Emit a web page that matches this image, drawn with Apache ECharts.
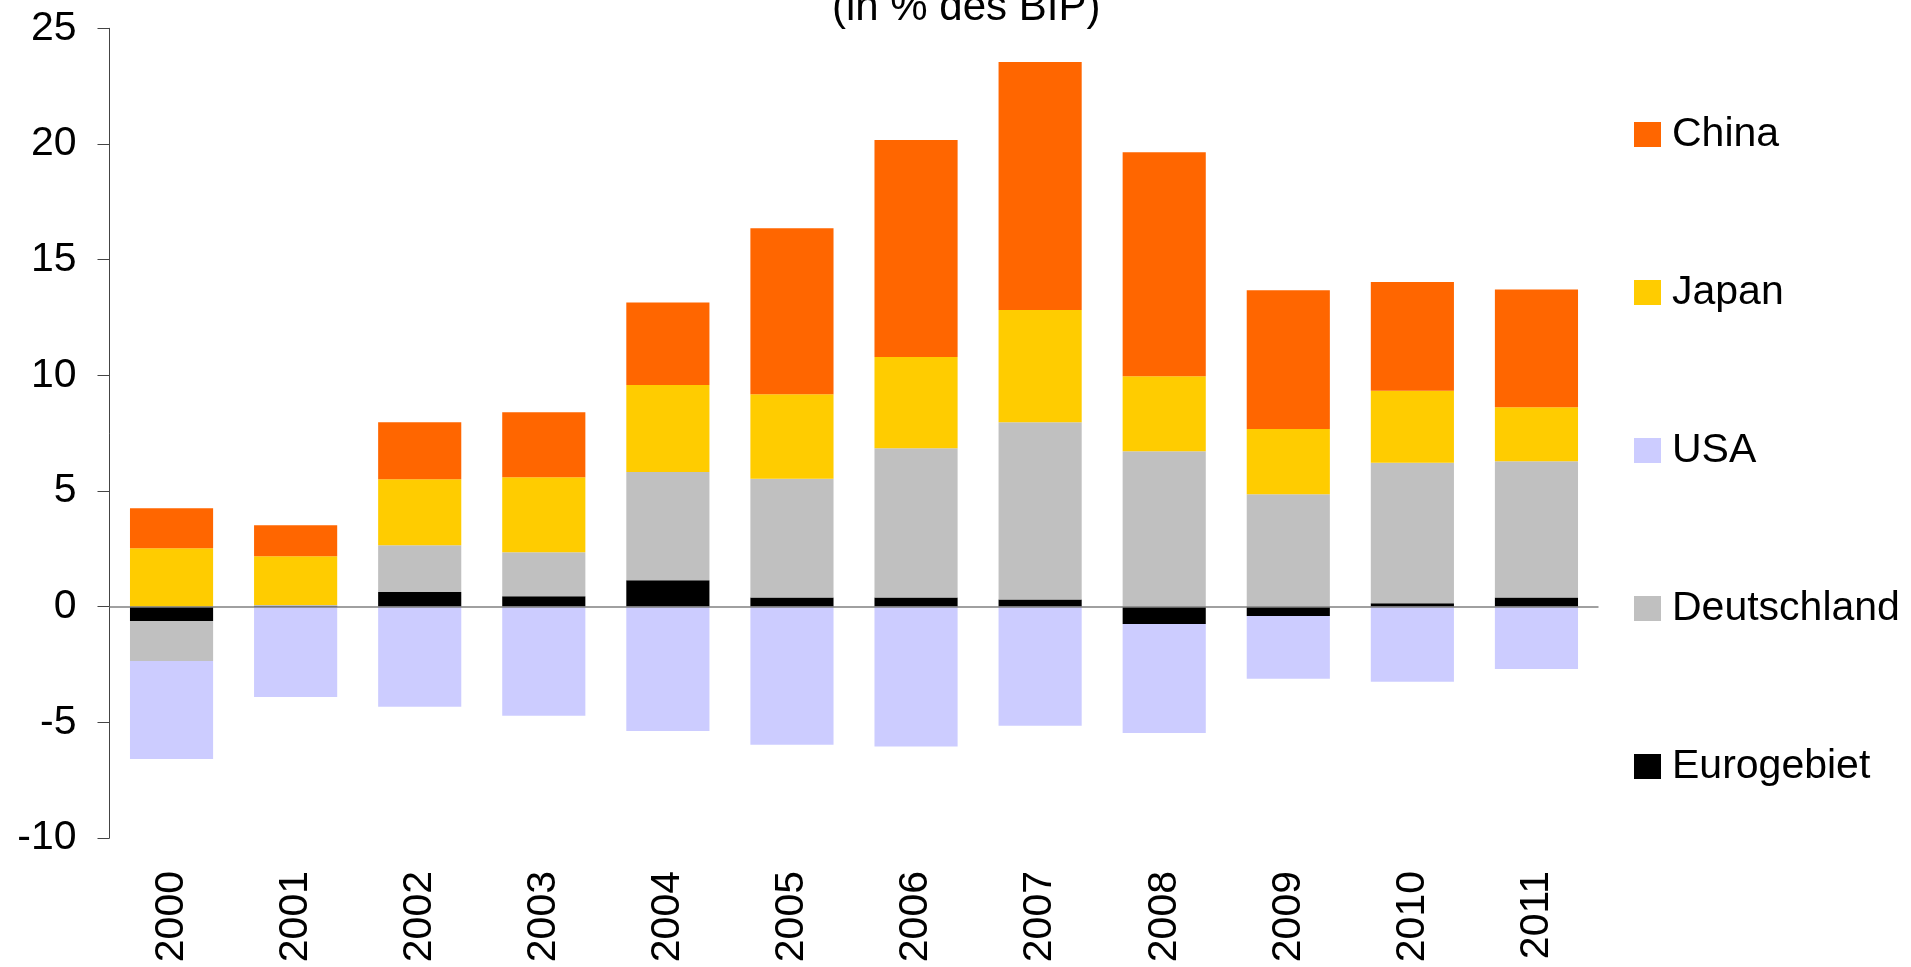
<!DOCTYPE html>
<html>
<head>
<meta charset="utf-8">
<title>Leistungsbilanzsalden</title>
<script src="https://cdn.jsdelivr.net/npm/echarts@6/dist/echarts.min.js"></script>
<style>
  html, body { margin: 0; padding: 0; background: #fff; }
  #main { width: 1911px; height: 967px; }
</style>
</head>
<body>
<div id="main"></div>
<script>
var years = ['2000', '2001', '2002', '2003', '2004', '2005', '2006', '2007', '2008', '2009', '2010', '2011'];

// Werte in % des BIP
var eurogebiet  = [-0.62, 0.04, 0.63, 0.45, 1.14, 0.40, 0.40, 0.31, -0.75, -0.40, 0.15, 0.40];
var deutschland = [-1.73, 0.03, 2.02, 1.90, 4.68, 5.13, 6.45, 7.66, 6.72, 4.86, 6.07, 5.89];
var usa         = [-4.23, -3.90, -4.33, -4.72, -5.37, -5.97, -6.05, -5.15, -4.71, -2.72, -3.25, -2.69];
var japan       = [2.53, 2.11, 2.86, 3.24, 3.76, 3.65, 3.94, 4.85, 3.24, 2.82, 3.11, 2.33];
var china       = [1.72, 1.34, 2.46, 2.81, 3.57, 7.18, 9.38, 10.72, 9.68, 6.00, 4.70, 5.09];

var yTicks = [-10, -5, 0, 5, 10, 15, 20, 25];

var font = 'Liberation Sans, Arial, sans-serif';

var myChart = echarts.init(document.getElementById('main'));

function bar(name, data, color) {
    return {
        name: name,
        type: 'bar',
        stack: 'saldo',
        barWidth: '67%',
        data: data,
        itemStyle: { color: color },
        emphasis: { disabled: true }
    };
}

var series = [
    bar('Eurogebiet', eurogebiet, '#000000'),
    bar('Deutschland', deutschland, '#C0C0C0'),
    bar('USA', usa, '#CCCCFF'),
    bar('Japan', japan, '#FFCC00'),
    bar('China', china, '#FF6600')
];

// Nulllinie ueber den Balken
series[4].markLine = {
    silent: true,
    symbol: 'none',
    label: { show: false },
    lineStyle: { color: '#808080', width: 1.5, type: 'solid' },
    data: [{ yAxis: 0 }]
};

myChart.setOption({
    animation: false,
    textStyle: { fontFamily: font },
    title: {
        text: '(in % des BIP)',
        left: 832,
        top: -13,
        padding: 0,
        textStyle: { fontSize: 42, fontWeight: 'normal', color: '#000', fontFamily: font, lineHeight: 42 }
    },
    legend: {
        data: ['China', 'Japan', 'USA', 'Deutschland', 'Eurogebiet'],
        orient: 'vertical',
        left: 1634,
        top: 114,
        padding: 0,
        itemWidth: 27,
        itemHeight: 25,
        itemGap: 117,
        icon: 'rect',
        selectedMode: false,
        textStyle: { fontSize: 41, color: '#000', fontFamily: font, lineHeight: 41, padding: [0, 0, 0, 6] }
    },
    grid: {
        left: 109.5,
        right: 312.5,
        top: 28.3,
        bottom: 129
    },
    xAxis: {
        type: 'category',
        data: years,
        axisLine: { show: false, onZero: false },
        axisTick: { show: false },
        axisLabel: { rotate: 90, margin: 33, fontSize: 41, color: '#000', fontFamily: font }
    },
    yAxis: {
        type: 'value',
        min: yTicks[0],
        max: yTicks[yTicks.length - 1],
        interval: 5,
        splitLine: { show: false },
        axisLine: { show: true, lineStyle: { color: '#444', width: 1 } },
        axisTick: { show: true, length: 12, lineStyle: { color: '#444', width: 1 } },
        axisLabel: { margin: 33, fontSize: 41, color: '#000', fontFamily: font }
    },
    series: series
});
</script>
</body>
</html>
